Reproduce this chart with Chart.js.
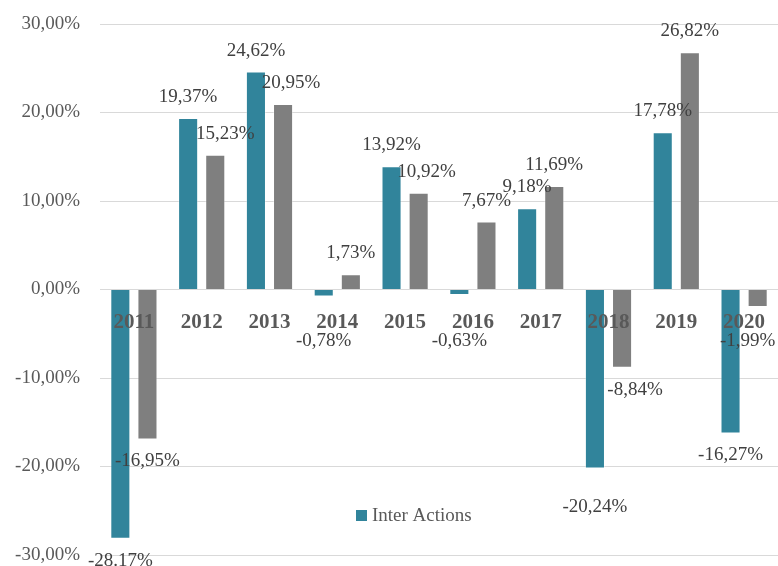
<!DOCTYPE html>
<html>
<head>
<meta charset="utf-8">
<script src="https://cdn.jsdelivr.net/npm/chart.js@4"></script>
<style>
  html, body { margin: 0; padding: 0; background: #fff; }
  #wrap { width: 778px; height: 566px; }
</style>
</head>
<body>
<div id="wrap"><canvas id="barChart"></canvas></div>
<script>
const years = ['2011', '2012', '2013', '2014', '2015', '2016', '2017', '2018', '2019', '2020'];
const interActions = [-28.17, 19.37, 24.62, -0.78, 13.92, -0.63, 9.18, -20.24, 17.78, -16.27];
const secondSeries = [-16.95, 15.23, 20.95, 1.73, 10.92, 7.67, 11.69, -8.84, 26.82, -1.99];
const yTicks = [-30, -20, -10, 0, 10, 20, 30];

// small nudges for labels that Excel moved to avoid overlap [dataset][index] = [dx, dy]
const labelNudge = {
    '0-7': [0, 16],
    '1-1': [10, 0],
    '1-2': [8, 0],
    '1-4': [8, 0],
    '1-7': [13, 0],
    '1-9': [-10, 0]
};
const labelText = { '0-0': '-28.17%' };

const serif = '"Liberation Serif", "DejaVu Serif", serif';

function pct(v) {
    return v.toFixed(2).replace('.', ',') + '%';
}

const valueLabels = {
    id: 'valueLabels',
    afterDatasetsDraw(chart) {
        const ctx = chart.ctx;
        const zeroY = chart.scales.y.getPixelForValue(0);
        ctx.save();
        ctx.font = '19px ' + serif;
        ctx.fillStyle = '#404040';
        ctx.textAlign = 'center';
        ctx.textBaseline = 'middle';
        chart.data.datasets.forEach(function (ds, di) {
            chart.getDatasetMeta(di).data.forEach(function (bar, i) {
                const v = ds.data[i];
                const key = di + '-' + i;
                const n = labelNudge[key] || [0, 0];
                let y = v >= 0 ? bar.y - 21 : Math.max(bar.y + 22, zeroY + 52);
                ctx.fillText(labelText[key] || pct(v), bar.x + n[0], y + n[1]);
            });
        });
        ctx.restore();
    },
    afterDraw(chart) {
        // single legend entry sitting inside the plot
        const ctx = chart.ctx;
        const ds = chart.data.datasets[0];
        ctx.save();
        ctx.fillStyle = ds.backgroundColor;
        ctx.fillRect(356, 510, 11, 11);
        ctx.font = '19px ' + serif;
        ctx.fillStyle = '#595959';
        ctx.textBaseline = 'middle';
        ctx.fillText(ds.label, 372, 516);
        ctx.restore();
    }
};

new Chart(document.getElementById('barChart'), {
    type: 'bar',
    data: {
        labels: years,
        datasets: [
            {
                label: 'Inter Actions',
                data: interActions,
                backgroundColor: '#31849b',
                borderColor: 'rgba(255,255,255,0.35)',
                borderWidth: 1,
                categoryPercentage: 0.8,
                barPercentage: 0.74
            },
            {
                label: '',
                data: secondSeries,
                backgroundColor: '#7f7f7f',
                borderColor: 'rgba(255,255,255,0.35)',
                borderWidth: 1,
                categoryPercentage: 0.8,
                barPercentage: 0.74
            }
        ]
    },
    options: {
        responsive: true,
        maintainAspectRatio: false,
        animation: false,
        layout: { padding: { top: 24, bottom: 11, left: 0, right: 0 } },
        plugins: {
            legend: { display: false },
            tooltip: { enabled: false }
        },
        scales: {
            x: {
                position: { y: 0 },
                afterFit(scale) {
                    scale.height = 0;
                    scale.paddingLeft = 0;
                    scale.paddingRight = 0;
                },
                grid: { display: false, drawTicks: false },
                border: { display: false },
                ticks: {
                    z: 1,
                    autoSkip: false,
                    maxRotation: 0,
                    padding: 20,
                    color: '#595959',
                    font: { family: serif, size: 21, weight: 'bold' }
                }
            },
            y: {
                min: -30,
                max: 30,
                afterBuildTicks(scale) {
                    scale.ticks = yTicks.map(function (v) { return { value: v }; });
                },
                afterFit(scale) {
                    scale.width = 100;
                    scale.paddingTop = 0;
                    scale.paddingBottom = 0;
                },
                grid: { color: '#d9d9d9', lineWidth: 1, drawTicks: false },
                border: { display: false },
                ticks: {
                    padding: 20,
                    color: '#595959',
                    font: { family: serif, size: 19 },
                    callback: function (v) { return pct(v); }
                }
            }
        }
    },
    plugins: [valueLabels]
});
</script>
</body>
</html>
